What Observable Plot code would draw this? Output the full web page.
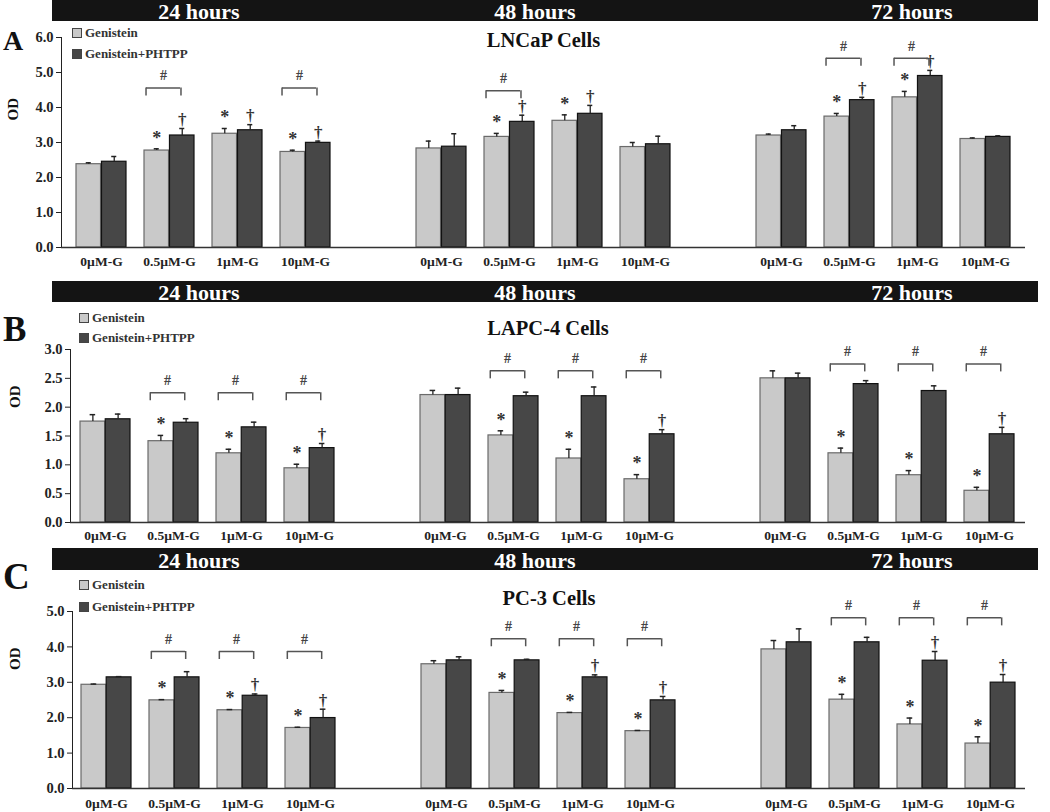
<!DOCTYPE html>
<html><head><meta charset="utf-8">
<script src="https://cdn.jsdelivr.net/npm/d3@7"></script>
<script src="https://cdn.jsdelivr.net/npm/@observablehq/plot@0.6"></script>
<style>
body{margin:0;background:#fff;font-family:"Liberation Serif","Times New Roman",serif;font-weight:bold;color:#222}
#root{position:relative;width:1050px;height:812px;overflow:hidden}
.hdr{position:absolute;left:52px;width:986px;background:#141414;}
.hdr span{position:absolute;color:#fff;font-size:22px;line-height:22px;transform:translateX(-50%);white-space:nowrap}
.letter{position:absolute;left:3px;line-height:1;color:#111}
.legend{position:absolute;font-size:13px;z-index:2;color:#333}
.legend div{display:flex;align-items:center}
.sw{display:inline-block;width:8px;height:8px;border:1px solid #444;margin-right:3px}
svg{position:absolute;left:0}
</style></head><body><div id="root"></div>
<script>
// ---- data ----
const categories = ["0µM-G","0.5µM-G","1µM-G","10µM-G"];
const times = ["24 hours","48 hours","72 hours"];
const seriesNames = ["Genistein","Genistein+PHTPP"];

// A: LNCaP Cells (order: 24h x4, 48h x4, 72h x4)
const lncapGen      = [2.38,2.77,3.25,2.73, 2.83,3.16,3.62,2.87, 3.20,3.74,4.29,3.10];
const lncapGenErr   = [0.04,0.05,0.15,0.05, 0.21,0.10,0.17,0.13, 0.04,0.09,0.17,0.03];
const lncapPht      = [2.45,3.20,3.35,2.99, 2.88,3.59,3.82,2.95, 3.35,4.21,4.90,3.16];
const lncapPhtErr   = [0.15,0.20,0.16,0.05, 0.37,0.19,0.24,0.23, 0.13,0.08,0.16,0.03];
const lncapStar     = [0,1,1,1, 0,1,1,0, 0,1,1,0];
const lncapDagger   = [0,1,1,1, 0,1,1,0, 0,1,1,0];
const lncapBracket  = [0,1,0,1, 0,1,0,0, 0,1,1,0];
const lncapBracketLevel = [4.56, 4.48, 5.41];
const lncapTicks = [0,1,2,3,4,5,6];

// B: LAPC-4 Cells
const lapcGen       = [1.75,1.41,1.20,0.94, 2.21,1.51,1.11,0.75, 2.50,1.20,0.82,0.55];
const lapcGenErr    = [0.12,0.10,0.07,0.07, 0.08,0.08,0.16,0.08, 0.13,0.09,0.08,0.06];
const lapcPht       = [1.79,1.73,1.65,1.29, 2.21,2.19,2.19,1.53, 2.50,2.40,2.28,1.53];
const lapcPhtErr    = [0.09,0.07,0.09,0.08, 0.12,0.07,0.16,0.08, 0.09,0.06,0.09,0.12];
const lapcStar      = [0,1,1,1, 0,1,1,1, 0,1,1,1];
const lapcDagger    = [0,0,0,1, 0,0,0,1, 0,0,0,1];
const lapcBracket   = [0,1,1,1, 0,1,1,1, 0,1,1,1];
const lapcBracketLevel = [2.25, 2.63, 2.75];
const lapcTicks = [0,0.5,1,1.5,2,2.5,3];

// C: PC-3 Cells
const pc3Gen        = [2.93,2.49,2.21,1.71, 3.51,2.70,2.13,1.62, 3.93,2.51,1.81,1.27];
const pc3GenErr     = [0.02,0.02,0.02,0.02, 0.10,0.07,0.02,0.02, 0.25,0.15,0.18,0.19];
const pc3Pht        = [3.14,3.14,2.62,1.99, 3.62,3.62,3.14,2.49, 4.13,4.13,3.61,2.99];
const pc3PhtErr     = [0.02,0.16,0.05,0.25, 0.10,0.03,0.07,0.11, 0.38,0.14,0.26,0.23];
const pc3Star       = [0,1,1,1, 0,1,1,1, 0,1,1,1];
const pc3Dagger     = [0,0,1,1, 0,0,1,1, 0,0,1,1];
const pc3Bracket    = [0,1,1,1, 0,1,1,1, 0,1,1,1];
const pc3BracketLevel = [3.87, 4.23, 4.82];
const pc3Ticks = [0,1,2,3,4,5];

// ---- layout ----
const slotDomain = [];
times.forEach((t, ti) => {
  if (ti > 0) slotDomain.push("gap" + ti);
  categories.forEach(c => slotDomain.push(t + "|" + c));
});
const slotOf = i => times[Math.floor(i / 4)] + "|" + categories[i % 4];
const headerCenters = [199, 535, 912];
const root = document.getElementById("root");
const W = 1050, mR = 25;

function drawPanel(cfg) {
  // header bar
  const hdr = document.createElement("div");
  hdr.className = "hdr";
  hdr.style.top = cfg.hdrTop + "px";
  hdr.style.height = cfg.hdrH + "px";
  times.forEach((t, i) => {
    const s = document.createElement("span");
    s.textContent = t;
    s.style.left = (headerCenters[i] - 52) + "px";
    s.style.top = cfg.hdrTextTop + "px";
    hdr.appendChild(s);
  });
  root.appendChild(hdr);

  // panel letter
  const L = document.createElement("div");
  L.className = "letter";
  L.textContent = cfg.letter;
  L.style.fontSize = cfg.letterSize + "px";
  L.style.top = cfg.letterTop + "px";
  root.appendChild(L);

  // legend
  const lg = document.createElement("div");
  lg.className = "legend";
  lg.style.left = cfg.legLeft + "px";
  lg.style.top = cfg.legTop + "px";
  seriesNames.forEach((n, i) => {
    const r = document.createElement("div");
    r.style.height = cfg.legRow + "px";
    const sw = document.createElement("span");
    sw.className = "sw";
    sw.style.background = i === 0 ? "#c9c9c9" : "#474747";
    r.appendChild(sw);
    r.appendChild(document.createTextNode(n));
    lg.appendChild(r);
  });
  root.appendChild(lg);

  const step = (W - cfg.mL - mR) / 14;
  const bw = step * (1 - 0.26);
  const q = bw / 4;
  const gen = cfg.gen.map((v, i) => ({slot: slotOf(i), value: v, err: cfg.genErr[i], mark: cfg.star[i]}));
  const pht = cfg.pht.map((v, i) => ({slot: slotOf(i), value: v, err: cfg.phtErr[i], mark: cfg.dagger[i]}));
  const br = cfg.bracket.map((b, i) => ({slot: slotOf(i), level: cfg.bracketLevel[Math.floor(i / 4)], on: b})).filter(d => d.on);
  const drop = 8 * cfg.yMax / cfg.plotH;
  const bL = 2, bR = 14;
  const top = d => d.value + d.err;

  const chart = Plot.plot({
    width: W,
    height: cfg.mT + cfg.plotH + cfg.mB,
    marginLeft: cfg.mL, marginRight: mR, marginTop: cfg.mT, marginBottom: cfg.mB,
    style: {fontFamily: "'Liberation Serif', 'Times New Roman', serif", fontWeight: "bold", fontSize: "13.5px", color: "#222", background: "transparent", overflow: "visible"},
    x: {domain: slotDomain, paddingInner: 0.26, paddingOuter: 0.13,
        tickFormat: d => d.startsWith("gap") ? "" : d.split("|")[1],
        tickSize: 0, tickPadding: cfg.xPad, label: null},
    y: {domain: [0, cfg.yMax], ticks: cfg.ticks, tickFormat: d => d.toFixed(1),
        tickSize: 5, tickPadding: 3, line: true, label: null},
    marks: [
      Plot.barY(gen, {x: "slot", y: "value", fill: "#c9c9c9", stroke: "#6a6a6a", strokeWidth: 1.2, insetRight: bw / 2}),
      Plot.barY(pht, {x: "slot", y: "value", fill: "#474747", stroke: "#111", strokeWidth: 1.2, insetLeft: bw / 2}),
      Plot.ruleY([0], {stroke: "#333", strokeWidth: 1.5}),
      // error bars
      Plot.ruleX(gen, {x: "slot", y1: "value", y2: top, dx: -q, stroke: "#222", strokeWidth: 1.3}),
      Plot.tickY(gen, {x: "slot", y: top, insetLeft: q - 3, insetRight: 3 * q - 3, stroke: "#222", strokeWidth: 1.5}),
      Plot.ruleX(pht, {x: "slot", y1: "value", y2: top, dx: q, stroke: "#222", strokeWidth: 1.3}),
      Plot.tickY(pht, {x: "slot", y: top, insetLeft: 3 * q - 3, insetRight: q - 3, stroke: "#222", strokeWidth: 1.5}),
      // significance markers
      Plot.text(gen.filter(d => d.mark), {x: "slot", y: top, dx: -q, dy: -11, text: () => "*", fontSize: 18, fill: "#333", lineAnchor: "middle"}),
      Plot.text(pht.filter(d => d.mark), {x: "slot", y: top, dx: q, dy: -9, text: () => "†", fontSize: 17, fill: "#333", lineAnchor: "middle"}),
      // brackets
      Plot.tickY(br, {x: "slot", y: "level", insetLeft: bL, insetRight: bR, stroke: "#555", strokeWidth: 1.5}),
      Plot.ruleX(br, {x: "slot", y1: "level", y2: d => d.level - drop, dx: -bw / 2 + bL, stroke: "#555", strokeWidth: 1.5}),
      Plot.ruleX(br, {x: "slot", y1: "level", y2: d => d.level - drop, dx: bw / 2 - bR, stroke: "#555", strokeWidth: 1.5}),
      Plot.text(br, {x: "slot", y: "level", dx: (bL - bR) / 2, dy: -12, text: () => "#", fontSize: 14, fill: "#444", lineAnchor: "middle"}),
      // title & y label
      Plot.text([cfg.title], {frameAnchor: "top", dy: cfg.titleDy, fontSize: 20.5, lineAnchor: "middle", fill: "#111"}),
      Plot.text(["OD"], {frameAnchor: "left", rotate: -90, dx: cfg.odDx, dy: cfg.odDy, fontSize: 15, lineAnchor: "middle", fill: "#111"})
    ]
  });
  // larger y tick labels
  chart.querySelectorAll('[aria-label*="y-axis"]').forEach(g => {
    g.style.fontSize = "14.5px";
    g.querySelectorAll("text").forEach(t => t.style.fontSize = "14.5px");
  });
  chart.style.top = cfg.svgTop + "px";
  chart.style.position = "absolute";
  chart.style.left = "0px";
  root.appendChild(chart);
}

drawPanel({letter: "A", letterSize: 28, letterTop: 27, hdrTop: 0, hdrH: 21, hdrTextTop: 1,
  legLeft: 72, legTop: 22.5, legRow: 21,
  title: "LNCaP Cells", titleDy: 3, odDx: -48, odDy: -22,
  gen: lncapGen, genErr: lncapGenErr, pht: lncapPht, phtErr: lncapPhtErr,
  star: lncapStar, dagger: lncapDagger, bracket: lncapBracket, bracketLevel: lncapBracketLevel,
  yMax: 6, ticks: lncapTicks, mL: 61, mT: 15, plotH: 210, mB: 30, xPad: 9, svgTop: 22});

drawPanel({letter: "B", letterSize: 35, letterTop: 312, hdrTop: 281, hdrH: 21, hdrTextTop: 1,
  legLeft: 79, legTop: 308, legRow: 20,
  title: "LAPC-4 Cells", titleDy: -21, odDx: -55, odDy: -28,
  gen: lapcGen, genErr: lapcGenErr, pht: lapcPht, phtErr: lapcPhtErr,
  star: lapcStar, dagger: lapcDagger, bracket: lapcBracket, bracketLevel: lapcBracketLevel,
  yMax: 3, ticks: lapcTicks, mL: 70, mT: 47, plotH: 173, mB: 25, xPad: 8, svgTop: 302});

drawPanel({letter: "C", letterSize: 37, letterTop: 558, hdrTop: 548, hdrH: 22, hdrTextTop: 1.5,
  legLeft: 79, legTop: 574, legRow: 22,
  title: "PC-3 Cells", titleDy: -13, odDx: -57, odDy: -30,
  gen: pc3Gen, genErr: pc3GenErr, pht: pc3Pht, phtErr: pc3PhtErr,
  star: pc3Star, dagger: pc3Dagger, bracket: pc3Bracket, bracketLevel: pc3BracketLevel,
  yMax: 5, ticks: pc3Ticks, mL: 72, mT: 41, plotH: 177, mB: 25, xPad: 10, svgTop: 570});
</script></body></html>
